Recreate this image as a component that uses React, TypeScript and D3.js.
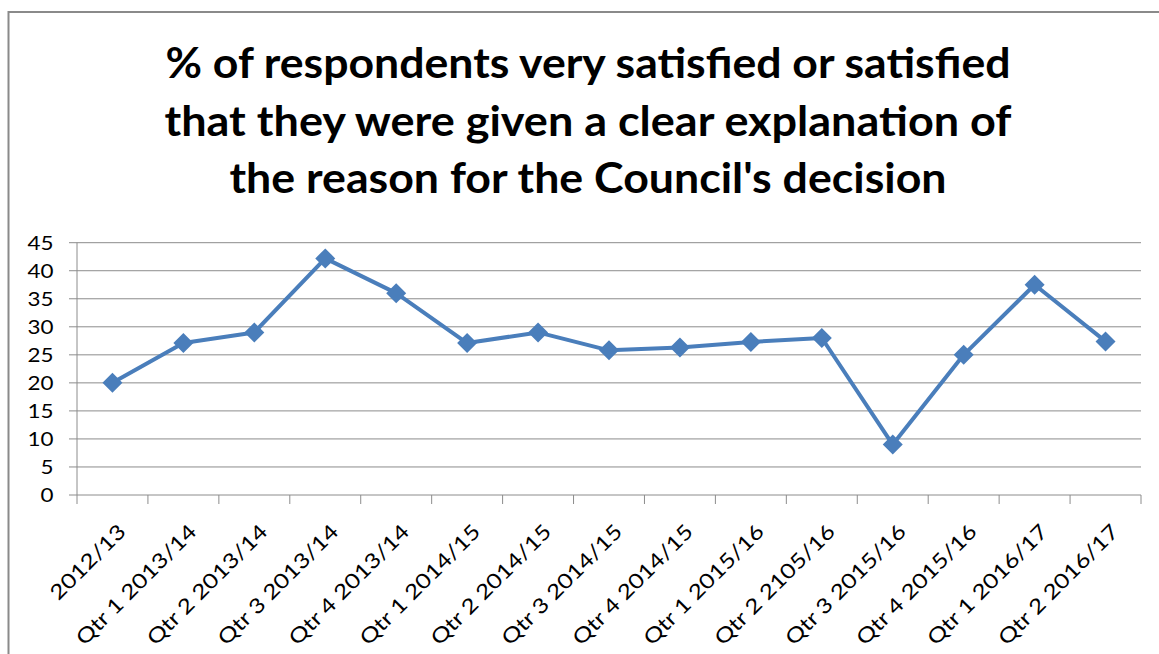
import React from "react";
import * as d3 from "d3";

const categories = [
  "2012/13",
  "Qtr 1 2013/14",
  "Qtr 2 2013/14",
  "Qtr 3 2013/14",
  "Qtr 4 2013/14",
  "Qtr 1 2014/15",
  "Qtr 2 2014/15",
  "Qtr 3 2014/15",
  "Qtr 4 2014/15",
  "Qtr 1 2015/16",
  "Qtr 2 2105/16",
  "Qtr 3 2015/16",
  "Qtr 4 2015/16",
  "Qtr 1 2016/17",
  "Qtr 2 2016/17",
];
const values = [20, 27.1, 29, 42.2, 36, 27.1, 29, 25.8, 26.3, 27.3, 28, 9, 25, 37.5, 27.4];
const yTicks = [0, 5, 10, 15, 20, 25, 30, 35, 40, 45];
const titleLines = [
  "% of respondents very satisfied or satisfied",
  "that they were given a clear explanation of",
  "the reason for the Council's decision",
];
const titleWidths = [845, 847, 717];

const W = 1159;
const H = 654;
const FONT = "Lato, 'Open Sans', 'Liberation Sans', sans-serif";

export default function App() {
  const left = 77;
  const right = 1141;
  const top = 242.7;
  const bottom = 495;
  const x = d3.scaleBand<string>().domain(categories).range([left, right]).padding(0);
  const y = d3.scaleLinear().domain([0, 45]).range([bottom, top]);
  const cx = (c: string) => (x(c) as number) + x.bandwidth() / 2;
  const line = d3
    .line<number>()
    .x((_, i) => cx(categories[i]))
    .y((d) => y(d));
  const boundaries = [...categories.map((c) => x(c) as number), right];
  const color = "#4A7EBB";
  const gridColor = "#8c8c8c";
  const m = 10;

  return (
    <svg
      width={W}
      height={H}
      style={{ position: "absolute", left: 0, top: 0, background: "#fff" }}
    >
      <rect x={8.5} y={12} width={W + 10} height={H + 10} fill="#fff" stroke="#8a8a8a" strokeWidth={2} />
      {titleLines.map((t, i) => (
        <text
          key={i}
          x={588}
          y={78 + i * 57.5}
          textAnchor="middle"
          fontFamily={FONT}
          fontWeight="bold"
          fontSize={42}
          textLength={titleWidths[i]}
          lengthAdjust="spacingAndGlyphs"
          fill="#000"
        >
          {t}
        </text>
      ))}
      {yTicks.map((t) => (
        <g key={t}>
          <line x1={69} x2={right} y1={y(t)} y2={y(t)} stroke={gridColor} strokeWidth={1} />
          <text
            transform={`translate(53.5,${y(t)}) scale(1.15,1)`}
            dy="0.36em"
            textAnchor="end"
            fontFamily={FONT}
            fontSize={19.5}
            fill="#000"
          >
            {t}
          </text>
        </g>
      ))}
      <line x1={left} x2={left} y1={top} y2={bottom} stroke={gridColor} strokeWidth={1} />
      {boundaries.map((b, i) => (
        <line key={i} x1={b} x2={b} y1={bottom} y2={bottom + 9} stroke={gridColor} strokeWidth={1} />
      ))}
      {categories.map((c) => (
        <text
          key={c}
          transform={`translate(${cx(c) + 14.5},533) rotate(-45) scale(1.2,1)`}
          textAnchor="end"
          fontFamily={FONT}
          fontSize={20.5}
          fill="#000"
        >
          {c}
        </text>
      ))}
      <path d={line(values) || ""} fill="none" stroke={color} strokeWidth={4} strokeLinejoin="round" />
      {values.map((v, i) => {
        const px = cx(categories[i]);
        const py = y(v);
        return (
          <path
            key={i}
            d={`M${px},${py - m}L${px + m},${py}L${px},${py + m}L${px - m},${py}Z`}
            fill={color}
          />
        );
      })}
    </svg>
  );
}
